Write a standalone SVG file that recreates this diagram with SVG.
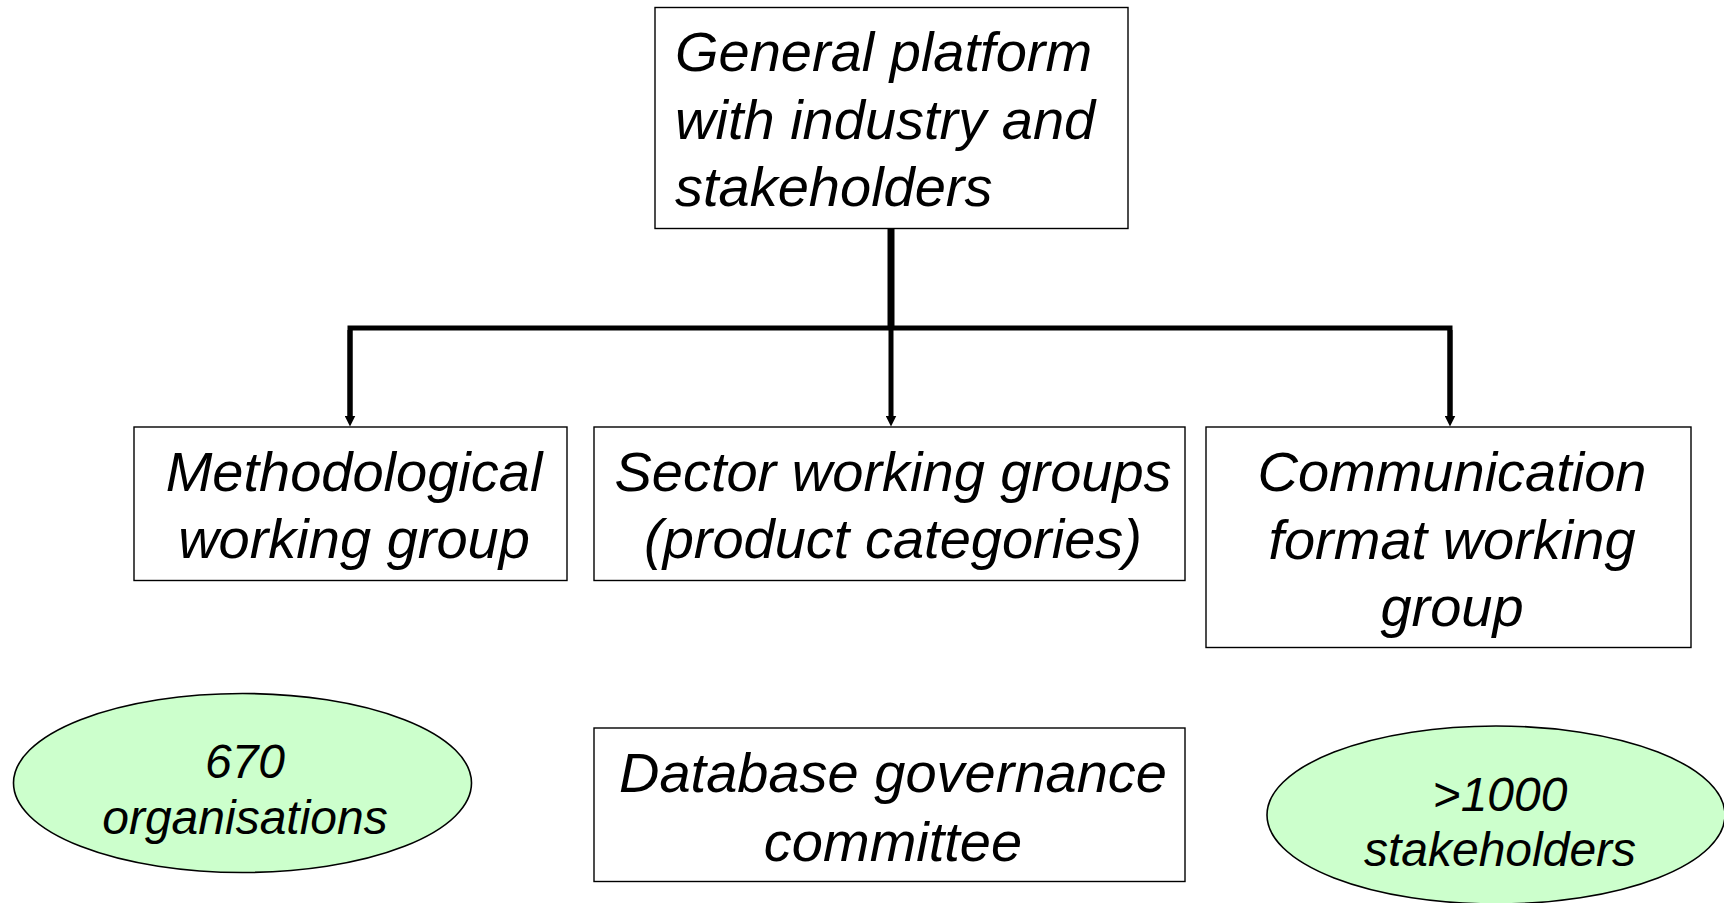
<svg xmlns="http://www.w3.org/2000/svg" width="1724" height="903" viewBox="0 0 1724 903">
<style>
.box{fill:#fff;stroke:#000;stroke-width:1.4}
.ell{fill:#ccffcc;stroke:#000;stroke-width:1.6}
.t{font-family:"Liberation Sans",Arial,sans-serif;font-style:italic;font-size:56px;fill:#000}
.s{font-size:48px}
.m{text-anchor:middle}
.c{fill:none;stroke:#000;stroke-width:5;stroke-linejoin:miter}
</style>
<defs>
<marker id="arr" markerUnits="userSpaceOnUse" markerWidth="11" markerHeight="11" viewBox="0 0 11 11" refX="0.5" refY="5.5" orient="auto">
<path d="M0,0 L11,5.5 L0,11 z" fill="#000"/>
</marker>
</defs>
<rect width="1724" height="903" fill="#fff"/>
<g id="connectors">
<path class="c" d="M891,229 L891,328" style="stroke-width:7"/>
<path class="c" d="M350,416 L350,328 L1450,328 L1450,416"/>
<path class="c" d="M891,328 L891,416" marker-end="url(#arr)"/>
<path class="c" d="M350,330 L350,416" marker-end="url(#arr)"/>
<path class="c" d="M1450,330 L1450,416" marker-end="url(#arr)"/>
</g>
<g id="general">
<rect class="box" x="655" y="7.5" width="473" height="221"/>
<text class="t" x="675" y="71">General platform</text>
<text class="t" x="675" y="138.5">with industry and</text>
<text class="t" x="675" y="206">stakeholders</text>
</g>
<g id="methodological">
<rect class="box" x="134" y="427" width="433" height="153.5"/>
<text class="t m" x="354" y="491">Methodological</text>
<text class="t m" x="354" y="558">working group</text>
</g>
<g id="sector">
<rect class="box" x="594" y="427" width="591" height="153.5"/>
<text class="t m" x="893" y="491">Sector working groups</text>
<text class="t m" x="893" y="558">(product categories)</text>
</g>
<g id="communication">
<rect class="box" x="1206" y="427" width="485" height="220.5"/>
<text class="t m" x="1452" y="491">Communication</text>
<text class="t m" x="1452" y="558.5">format working</text>
<text class="t m" x="1452" y="626">group</text>
</g>
<g id="organisations">
<ellipse class="ell" cx="242.5" cy="783" rx="229" ry="89.5"/>
<text class="t s m" x="245" y="778">670</text>
<text class="t s m" x="245" y="833.5">organisations</text>
</g>
<g id="database">
<rect class="box" x="594" y="728" width="591" height="153.5"/>
<text class="t m" x="893" y="792">Database governance</text>
<text class="t m" x="893" y="861">committee</text>
</g>
<g id="stakeholders">
<ellipse class="ell" cx="1496" cy="815" rx="229" ry="89"/>
<text class="t s m" x="1500" y="810.5">&gt;1000</text>
<text class="t s m" x="1500" y="866">stakeholders</text>
</g>
</svg>
